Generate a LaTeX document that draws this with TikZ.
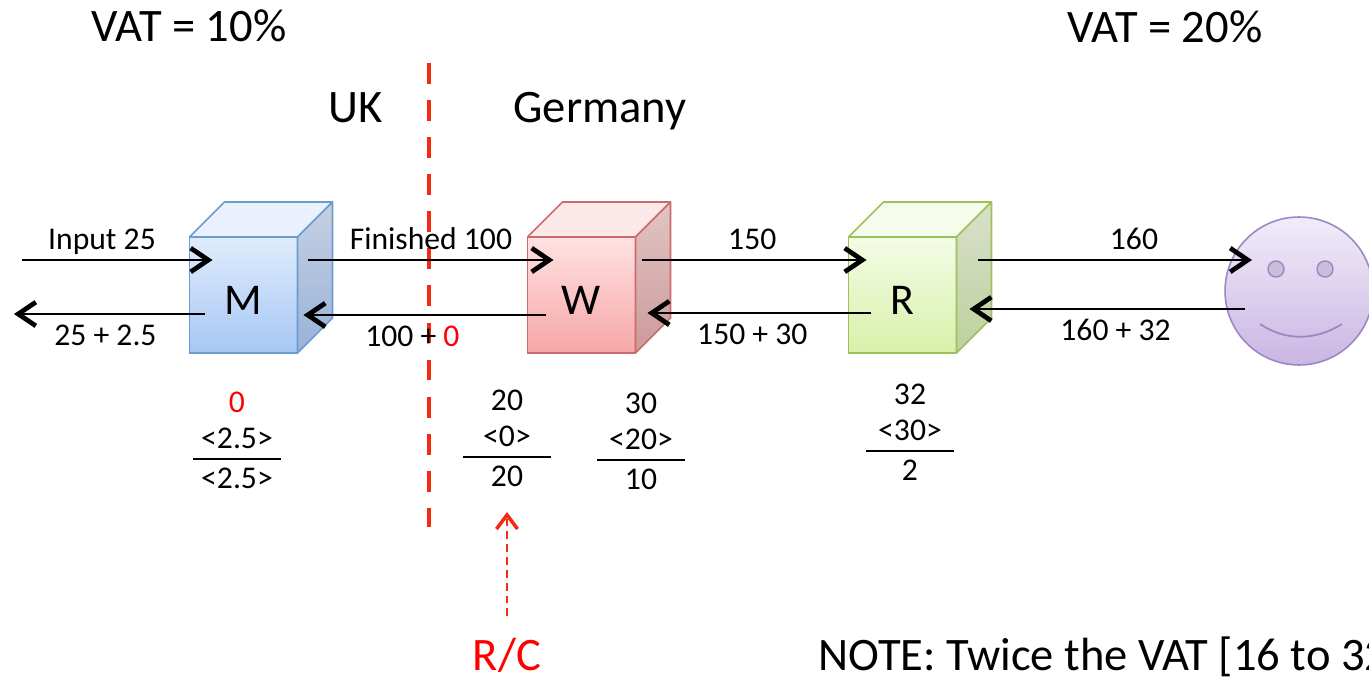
\documentclass[tikz,border=0pt]{standalone}
\usepackage{fontspec}
\setmainfont{Carlito}
\usepackage{xcolor}
\usetikzlibrary{arrows.meta,calc}
\definecolor{cut}{HTML}{F22B12}
% manufacturer (blue)
\definecolor{mhi}{HTML}{E0ECFC}
\definecolor{mlo}{HTML}{A6C7F4}
\definecolor{medge}{HTML}{6C9BD0}
\definecolor{mlid}{HTML}{EAF1FC}
\definecolor{msidehi}{HTML}{C6D1E2}
\definecolor{msidelo}{HTML}{98B2D8}
% wholesaler (red)
\definecolor{whi}{HTML}{FFE2E2}
\definecolor{wlo}{HTML}{F7A6A6}
\definecolor{wedge}{HTML}{CC6B6B}
\definecolor{wlid}{HTML}{FCE8E8}
\definecolor{wsidehi}{HTML}{E2C4C4}
\definecolor{wsidelo}{HTML}{CC9A9A}
% retailer (green)
\definecolor{rhi}{HTML}{F4FCE6}
\definecolor{rlo}{HTML}{D8F0AA}
\definecolor{redge}{HTML}{9DC05A}
\definecolor{rlid}{HTML}{F6FCEC}
\definecolor{rsidehi}{HTML}{DADFCB}
\definecolor{rsidelo}{HTML}{BDD19E}
% consumer
\definecolor{shi}{HTML}{F1ECF9}
\definecolor{slo}{HTML}{CAB6E3}
\definecolor{sedge}{HTML}{9C86C4}
\definecolor{seye}{HTML}{C9BEDA}
\tikzset{
  face/.style={shade,line width=0.9pt,outer sep=0pt,inner sep=0pt,
    minimum width=2.16cm,minimum height=2.32cm,
    font=\fontsize{25}{30}\selectfont,text height=21.7pt,text depth=0pt},
  lbl/.style={inner sep=0pt,font=\fontsize{18}{21}\selectfont},
  big/.style={inner sep=0pt,font=\fontsize{26.5}{31}\selectfont},
  over/.style={lbl,anchor=base,yshift=5.7pt},
  under/.style={lbl,anchor=base,yshift=-18pt},
  flow/.style={line width=1.7pt,-{Straight Barb[length=10pt,width=13.5pt,line width=2.7pt]}},
  sumline/.style={line width=1.7pt},
  border/.style={draw=cut,line width=2.8pt,dash pattern=on 11.9pt off 9.2pt},
  rcflow/.style={draw=cut,line width=1.3pt,dash pattern=on 4.5pt off 2.8pt,
    -{Straight Barb[length=8pt,width=12pt,line width=2pt]}},
  buyer/.style={circle,draw=sedge,top color=shi,bottom color=slo,line width=0.9pt,
    minimum size=2.96cm,inner sep=0pt,outer sep=0pt}
}
% #1 name, #2 centre of front face, #3 colour prefix, #4 letter
\newcommand{\crate}[4]{%
  \node[face,top color=#3hi,bottom color=#3lo,draw=#3edge] (#1) at (#2) {#4};
  \filldraw[draw=#3edge,fill=#3lid,line width=0.9pt,line join=round]
    (#1.north west) -- ++(35,-35) -- ++(108,0) -- (#1.north east) -- cycle;
  \draw[draw=#3edge,top color=#3sidehi,bottom color=#3sidelo,line width=0.9pt,line join=round]
    (#1.north east) -- ++(35,-35) -- ++(0,116) -- (#1.south east) -- cycle;}
% #1 name, #2 centre of the rule, #3/#4/#5 the three figures
\newcommand{\tally}[5]{%
  \begin{scope}[shift={(#2)}]
    \node[lbl,anchor=base] (#1top) at (0,-47) {#3};
    \node[lbl,anchor=base] (#1mid) at (0,-11) {#4};
    \draw[sumline] (-44,0) -- (44,0);
    \node[lbl,anchor=base] (#1bot) at (0,29) {#5};
  \end{scope}}

\begin{document}
\begin{tikzpicture}[x=0.02cm,y=-0.02cm]
  \useasboundingbox (0,0) rectangle (1369,679);

  \node[big,anchor=base] (vatuk) at (189,42) {VAT = 10\%};
  \node[big,anchor=base] (vatde) at (1165,43) {VAT = 20\%};
  \node[big,anchor=base] (uk) at (356,123) {UK};
  \node[big,anchor=base] (de) at (600,123) {Germany};

  \draw[border] (429,63) -- (429,527);

  \crate{M}{243.5,295}{m}{M}
  \crate{W}{581.5,295}{w}{W}
  \crate{R}{902.5,295}{r}{R}

  % consumer
  \node[buyer] (shop) at (1299,291) {};
  \filldraw[draw=sedge,fill=seye,line width=0.8pt] ($(shop)+(-23,-22)$) circle[radius=8];
  \filldraw[draw=sedge,fill=seye,line width=0.8pt] ($(shop)+(26,-22)$) circle[radius=8];
  \draw[sedge,line width=1pt] ($(shop)+(-39,33)$) .. controls ($(shop)+(-14,50)$) and ($(shop)+(16,50)$) .. ($(shop)+(43,33)$);

  % goods and payments
  \coordinate (src) at (22,260);
  \coordinate (sink) at (14,314);
  \draw[flow] (src) -- ($(M.west)+(23,-35)$) node[over,pos=.42] {Input 25};
  \draw[flow] ($(M.west)+(15,19)$) -- (sink) node[under,pos=.52] {25 + 2.5};
  \draw[flow] ($(M.east)+(11,-35)$) -- ($(W.west)+(26,-35)$) node[over,pos=.5] {Finished 100};
  \draw[flow] ($(W.west)+(18,20)$) -- ($(M.east)+(6,20)$) node[under,pos=.55] {100 + \textcolor{red}{0}};
  \draw[flow] ($(W.east)+(7,-35)$) -- ($(R.west)+(18,-35)$) node[over,pos=.49] {150};
  \draw[flow] ($(R.west)+(22,18)$) -- ($(W.east)+(12,18)$) node[under,pos=.53] {150 + 30};
  \draw[flow] ($(R.east)+(21,-35)$) -- ($(shop.west)+(27,-31)$) node[over,pos=.57] {160};
  \draw[flow] ($(shop.west)+(20,18)$) -- ($(R.east)+(13,14)$) node[under,pos=.47] {160 + 32};

  \tally{m}{237,459}{\textcolor{red}{0}}{<2.5>}{<2.5>}
  \tally{wa}{507,457}{20}{<0>}{20}
  \tally{wb}{641,460}{30}{<20>}{10}
  \tally{r}{910,451}{32}{<30>}{2}

  % reverse charge
  \node[big,text=red,anchor=base] (rc) at (507,670) {R/C};
  \coordinate (rctip) at (507,512);
  \draw[rcflow,shorten <=12pt] (rc.north) -- (rctip);

  \node[big,anchor=base west] (note) at (818,670) {NOTE: Twice the VAT [16 to 32]};
\end{tikzpicture}
\end{document}
